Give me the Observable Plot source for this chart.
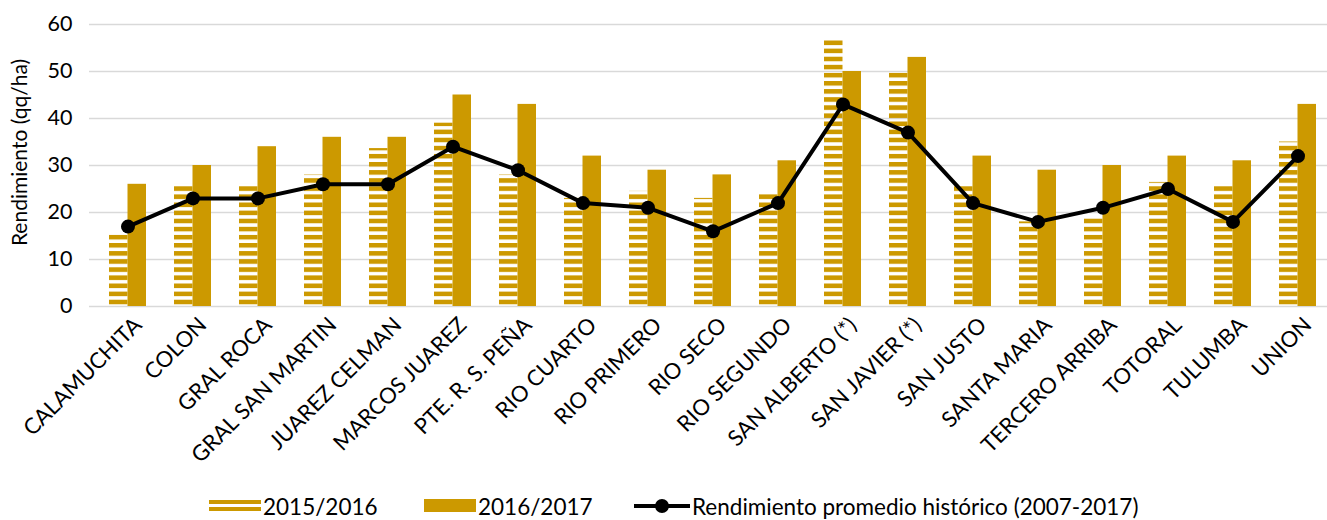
<!DOCTYPE html>
<html>
<head>
<meta charset="utf-8">
<script src="https://cdn.jsdelivr.net/npm/d3@7"></script>
<script src="https://cdn.jsdelivr.net/npm/@observablehq/plot@0.6"></script>
<style>
  body { margin: 0; background: #fff; font-family: Lato, "Open Sans", sans-serif; }
  #legend { position: relative; height: 28px; width: 1327px; font-size: 22.5px; color: #000; }
  #legend .item { position: absolute; top: 0; height: 28px; display: flex; align-items: center; }
  #legend svg { display: block; }
</style>
</head>
<body>
<div id="chart"></div>
<div id="legend"></div>
<script>
const categories = ["CALAMUCHITA","COLON","GRAL ROCA","GRAL SAN MARTIN","JUAREZ CELMAN","MARCOS JUAREZ","PTE. R. S. PEÑA","RIO CUARTO","RIO PRIMERO","RIO SECO","RIO SEGUNDO","SAN ALBERTO (*)","SAN JAVIER (*)","SAN JUSTO","SANTA MARIA","TERCERO ARRIBA","TOTORAL","TULUMBA","UNION"];
const v2015 = [15.5, 26, 26, 28, 33.6, 39, 28, 23, 24.5, 23, 24, 57, 50, 26, 18, 19, 26.4, 26, 35];
const v2016 = [26, 30, 34, 36, 36, 45, 43, 32, 29, 28, 31, 50, 53, 32, 29, 30, 32, 31, 43];
const historico = [17, 23, 23, 26, 26, 34, 29, 22, 21, 16, 22, 43, 37, 22, 18, 21, 25, 18, 32];
const yTicks = [0, 10, 20, 30, 40, 50, 60];
const seriesNames = ["2015/2016", "2016/2017", "Rendimiento promedio histórico (2007-2017)"];

const gold = "#CC9900";
const data = categories.map((c, i) => ({cat: c, a: v2015[i], b: v2016[i], h: historico[i]}));
const half = 18.5;

const chart = Plot.plot({
  width: 1327,
  height: 492,
  marginLeft: 89,
  marginRight: 0,
  marginTop: 24,
  marginBottom: 186,
  style: {fontFamily: "Lato, 'Open Sans', sans-serif", fontSize: "20px", color: "#000", background: "#fff"},
  x: {type: "band", domain: categories, range: [89, 1336], paddingInner: 0.436, paddingOuter: 0.218},
  y: {domain: [0, 60], ticks: yTicks},
  marks: [
    Plot.gridY(yTicks, {stroke: "#d9d9d9", strokeOpacity: 1, strokeWidth: 1.5}),
    Plot.barY(data, {x: "cat", y: "a", fill: "url(#stripes)", insetRight: half}),
    Plot.barY(data, {x: "cat", y: "b", fill: gold, insetLeft: half}),
    Plot.line(data, {x: "cat", y: "h", stroke: "#000", strokeWidth: 4}),
    Plot.dot(data, {x: "cat", y: "h", r: 7, fill: "#000"}),
    Plot.axisY(yTicks, {tickSize: 0, tickPadding: 17, fontSize: 21.5, label: null}),
    Plot.text(["Rendimiento (qq/ha)"], {frameAnchor: "left", dx: -69, dy: -13, rotate: -90, fontSize: 21, textAnchor: "middle"}),
    Plot.axisX({tickRotate: -45, tickSize: 0, tickPadding: 15, dx: 10, fontSize: 22, label: null})
  ]
});

const NS = "http://www.w3.org/2000/svg";
const defs = document.createElementNS(NS, "defs");
const pat = document.createElementNS(NS, "pattern");
pat.setAttribute("id", "stripes");
pat.setAttribute("patternUnits", "userSpaceOnUse");
pat.setAttribute("width", "8");
pat.setAttribute("height", "8.1");
const pr = document.createElementNS(NS, "rect");
pr.setAttribute("width", "8");
pr.setAttribute("height", "4.6");
pr.setAttribute("fill", gold);
pat.appendChild(pr);
defs.appendChild(pat);
chart.insertBefore(defs, chart.firstChild);
document.getElementById("chart").appendChild(chart);

// legend
const legend = document.getElementById("legend");
const items = [
  {left: 209, sw: `<svg width="52" height="14"><rect y="1" width="52" height="4" fill="${gold}"/><rect y="8" width="52" height="4" fill="${gold}"/></svg>`},
  {left: 424, sw: `<svg width="52" height="14"><rect y="0" width="52" height="13" fill="${gold}"/></svg>`},
  {left: 634, sw: `<svg width="56" height="16"><line x1="0" y1="8" x2="56" y2="8" stroke="#000" stroke-width="4"/><circle cx="28" cy="8" r="7" fill="#000"/></svg>`}
];
items.forEach((it, i) => {
  const d = document.createElement("div");
  d.className = "item";
  d.style.left = it.left + "px";
  d.innerHTML = it.sw + `<span style="margin-left:2px">${seriesNames[i]}</span>`;
  legend.appendChild(d);
});
</script>
</body>
</html>
